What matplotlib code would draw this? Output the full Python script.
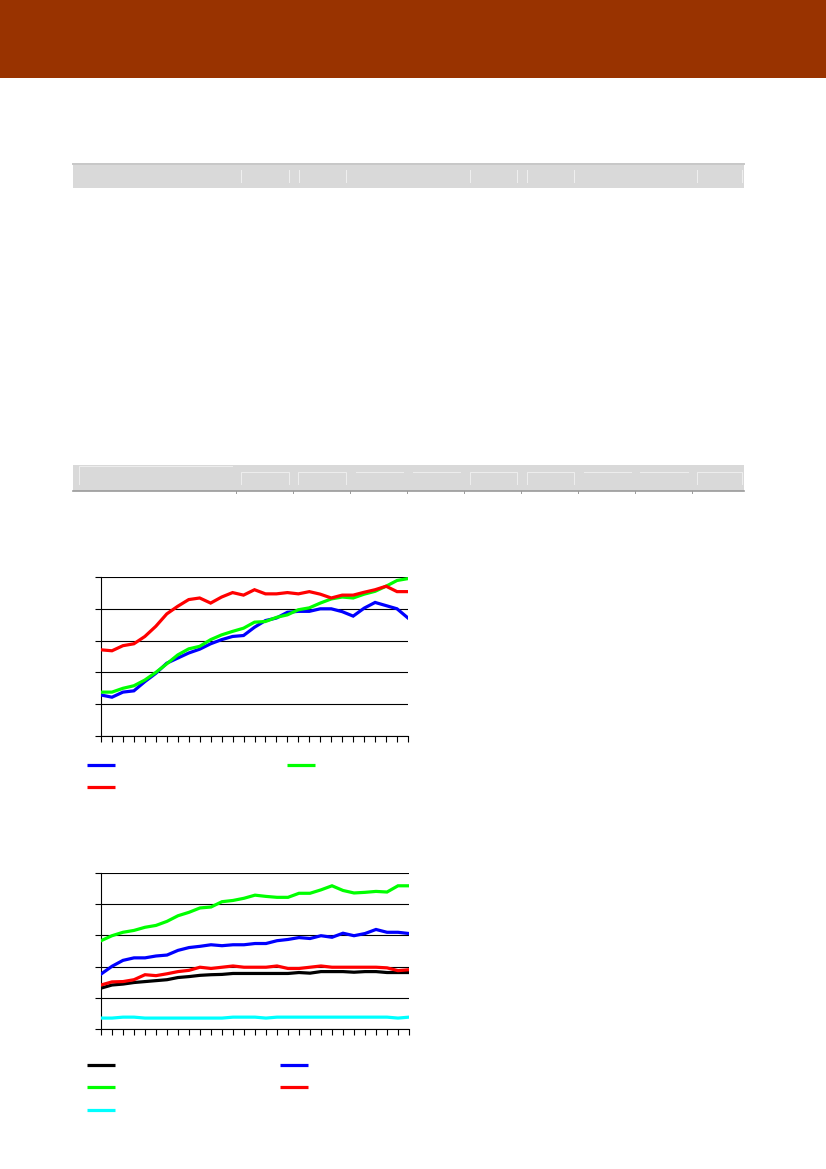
import numpy as np
import matplotlib
matplotlib.use("Agg")
import matplotlib.pyplot as plt
from matplotlib.patches import Rectangle
from matplotlib.lines import Line2D

# chart 1 (gridlines = 1 unit)
c1_blue = [1.29, 1.22, 1.38, 1.42, 1.71, 1.97, 2.29, 2.45, 2.61, 2.73, 2.90, 3.03, 3.13, 3.16, 3.42,
           3.63, 3.71, 3.89, 3.92, 3.92, 4.00, 4.00, 3.91, 3.77, 4.02, 4.20, 4.10, 4.00, 3.71]
c1_green = [1.38, 1.38, 1.50, 1.58, 1.76, 2.00, 2.27, 2.55, 2.74, 2.82, 3.03, 3.18, 3.29, 3.39, 3.58,
            3.60, 3.73, 3.81, 3.97, 4.03, 4.18, 4.31, 4.37, 4.34, 4.46, 4.55, 4.71, 4.89, 4.95]
c1_red = [2.71, 2.68, 2.84, 2.90, 3.13, 3.45, 3.84, 4.08, 4.29, 4.34, 4.18, 4.37, 4.51, 4.43, 4.60,
          4.47, 4.47, 4.51, 4.47, 4.54, 4.46, 4.34, 4.43, 4.43, 4.52, 4.60, 4.71, 4.54, 4.54]

# chart 2
c2_black = [1.31, 1.41, 1.44, 1.49, 1.52, 1.55, 1.58, 1.65, 1.68, 1.72, 1.74, 1.75, 1.78, 1.78, 1.78,
            1.78, 1.78, 1.78, 1.81, 1.79, 1.84, 1.84, 1.84, 1.82, 1.84, 1.84, 1.81, 1.81, 1.81]
c2_blue = [1.76, 2.01, 2.20, 2.28, 2.28, 2.34, 2.37, 2.52, 2.61, 2.65, 2.70, 2.67, 2.70, 2.70, 2.74,
           2.74, 2.83, 2.87, 2.93, 2.90, 2.99, 2.94, 3.07, 2.99, 3.06, 3.19, 3.10, 3.10, 3.06]
c2_green = [2.83, 2.99, 3.10, 3.16, 3.26, 3.32, 3.45, 3.63, 3.74, 3.88, 3.91, 4.08, 4.12, 4.19, 4.29,
            4.25, 4.22, 4.22, 4.35, 4.35, 4.46, 4.59, 4.44, 4.36, 4.38, 4.41, 4.39, 4.59, 4.59]
c2_red = [1.41, 1.51, 1.52, 1.58, 1.74, 1.71, 1.77, 1.84, 1.88, 1.98, 1.94, 1.98, 2.02, 1.98, 1.98,
          1.98, 2.02, 1.94, 1.94, 1.98, 2.02, 1.98, 1.98, 1.98, 1.98, 1.98, 1.96, 1.87, 1.90]
c2_cyan = [0.35, 0.35, 0.38, 0.38, 0.35, 0.35, 0.35, 0.35, 0.35, 0.35, 0.35, 0.35, 0.38, 0.38, 0.38,
           0.35, 0.38, 0.38, 0.38, 0.38, 0.38, 0.38, 0.38, 0.38, 0.38, 0.38, 0.38, 0.35, 0.38]

W, H = 826, 1169
fig = plt.figure(figsize=(W / 100, H / 100), dpi=100)


def px_rect(x0, y0, x1, y1, **kw):
    # rectangle in pixel coords (top-left origin) -> figure fraction
    fig.add_artist(Rectangle((x0 / W, 1 - y1 / H), (x1 - x0) / W, (y1 - y0) / H,
                             transform=fig.transFigure, **kw))


def px_line(xs, ys, **kw):
    fig.add_artist(Line2D([x / W for x in xs], [1 - y / H for y in ys],
                          transform=fig.transFigure, **kw))


# header band
px_rect(0, 0, W, 78, facecolor="#993300", edgecolor="none")

# first table header bar
px_rect(73, 163, 744, 188, facecolor="#d9d9d9", edgecolor="none")
px_line([73, 744], [164, 164], color="#c8c8c8", lw=1.4)
for x in [241, 289, 299, 346, 470, 517, 527, 574, 697, 742]:
    px_line([x, x], [170, 182], color="#f0f0f0", lw=0.7)

# second table header bar
px_rect(73, 465, 744, 491, facecolor="#d9d9d9", edgecolor="none")
px_line([73, 744], [491, 491], color="#9a9a9a", lw=1.2)
px_line([79, 79, 232], [484, 466, 466], color="#eeeeee", lw=0.7)
for a, b in [(241, 289), (298, 346), (470, 517), (527, 574), (697, 742)]:
    px_line([a, a, b, b], [484, 472, 472, 484], color="#eeeeee", lw=0.7)
for a, b in [(356, 403), (413, 460), (584, 631), (640, 688)]:
    px_line([a, b], [472, 472], color="#eeeeee", lw=0.7)
for x in [236, 293, 350, 407, 464, 521, 578, 635, 692]:
    px_line([x, x], [491, 493], color="#9a9a9a", lw=0.7)


def make_axes(left, top, right, bottom, series):
    ax = fig.add_axes([left / W, 1 - bottom / H, (right - left) / W, (bottom - top) / H])
    n = len(series[0][0])
    x = np.arange(n)
    for vals, col in series:
        ax.plot(x, vals, color=col, lw=2.3, solid_joinstyle="miter", zorder=3)
    ax.set_xlim(0, n - 1)
    ax.set_ylim(0, 5)
    ax.set_yticks(range(6))
    ax.set_xticks(x)
    ax.yaxis.grid(True, color="black", lw=0.8)
    ax.set_axisbelow(True)
    for s in ["top", "right"]:
        ax.spines[s].set_visible(False)
    for s in ["left", "bottom"]:
        ax.spines[s].set_linewidth(0.8)
    ax.tick_params(axis="both", direction="out", length=4, width=0.8,
                   labelleft=False, labelbottom=False)
    ax.set_facecolor("none")
    return ax


make_axes(101, 577, 408, 736,
          [(c1_blue, "#0000ff"), (c1_green, "#00ff00"), (c1_red, "#ff0000")])
make_axes(101, 873, 409, 1029,
          [(c2_black, "#000000"), (c2_blue, "#0000ff"), (c2_red, "#ff0000"),
           (c2_green, "#00ff00"), (c2_cyan, "#00ffff")])

# legend keys (legend text is absent in the source)
for (x0, y), col in [((87, 765), "#0000ff"), ((287, 765), "#00ff00"), ((87, 787), "#ff0000"),
                     ((87, 1065), "#000000"), ((280, 1065), "#0000ff"),
                     ((87, 1087), "#00ff00"), ((280, 1087), "#ff0000"),
                     ((87, 1110), "#00ffff")]:
    px_line([x0, x0 + 28], [y, y], color=col, lw=2.3, solid_capstyle="butt")

fig.savefig("out.png", dpi=100)
